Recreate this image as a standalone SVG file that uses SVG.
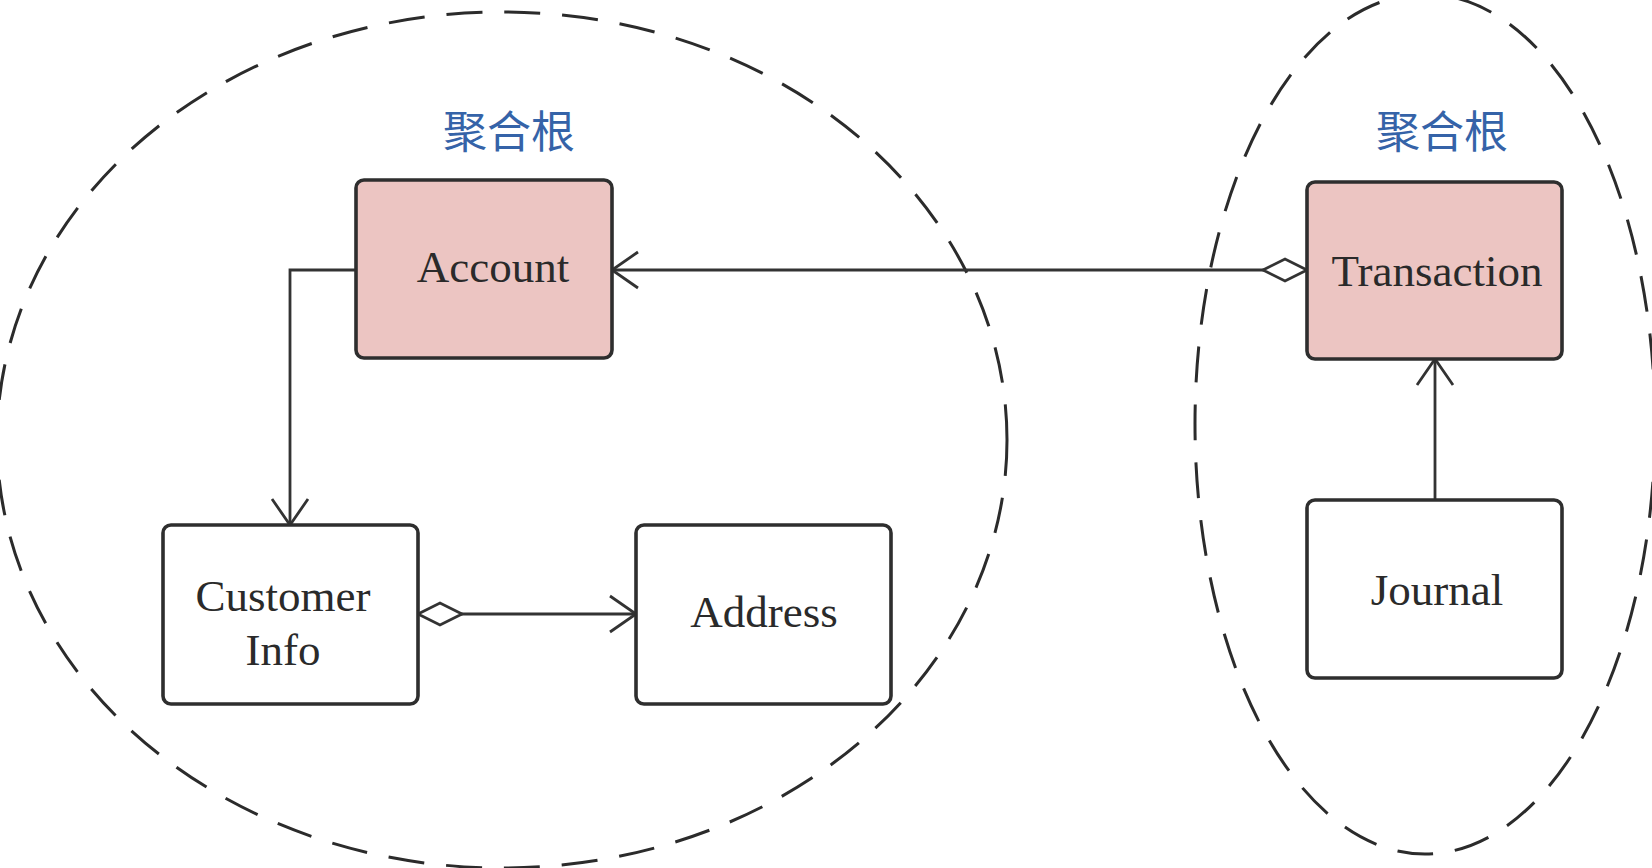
<svg xmlns="http://www.w3.org/2000/svg" width="1652" height="868" viewBox="0 0 1652 868">
  <style>
    .region { fill: none; stroke: #2b2b2b; stroke-width: 3; stroke-dasharray: 36 22; }
    .box { stroke: #2e2e2e; stroke-width: 3.6; }
    .root { fill: #ecc5c2; }
    .plain { fill: #ffffff; }
    .name { font-family: "Liberation Serif", "Times New Roman", serif; font-size: 45px; fill: #2a2a2a; text-anchor: middle; }
    .tag { font-family: "Noto Sans CJK SC", "Noto Sans CJK JP", sans-serif; font-size: 44px; fill: #3563a8; text-anchor: middle; }
    .link { fill: none; stroke: #333333; stroke-width: 2.8; }
  </style>
  <defs>
    <marker id="open" markerUnits="userSpaceOnUse" markerWidth="40" markerHeight="40" refX="0" refY="0" orient="auto" overflow="visible">
      <path d="M-26,-18 L0,0 L-26,18" fill="none" stroke="#333333" stroke-width="2.8"/>
    </marker>
    <marker id="diamond" markerUnits="userSpaceOnUse" markerWidth="50" markerHeight="30" refX="0" refY="0" orient="auto" overflow="visible">
      <path d="M0,0 L22,-11 L44,0 L22,11 Z" fill="#ffffff" stroke="#333333" stroke-width="2.8"/>
    </marker>
  </defs>
  <rect width="1652" height="868" fill="#ffffff"/>

  <g id="regions">
    <ellipse class="region" cx="502" cy="440" rx="505" ry="428"/>
    <ellipse class="region" cx="1425" cy="424" rx="230" ry="430"/>
  </g>

  <g id="connectors">
    <path class="link" d="M1307,270 H612" marker-start="url(#diamond)" marker-end="url(#open)"/>
    <path class="link" d="M356,270 H290 V525" marker-end="url(#open)"/>
    <path class="link" d="M418,614 H636" marker-start="url(#diamond)" marker-end="url(#open)"/>
    <path class="link" d="M1435,500 V359" marker-end="url(#open)"/>
  </g>

  <g id="label-left">
    <text class="tag" x="509" y="148">聚合根</text>
  </g>
  <g id="label-right">
    <text class="tag" x="1442" y="148">聚合根</text>
  </g>

  <g id="account">
    <rect class="box root" x="356" y="180" width="256" height="178" rx="8"/>
    <text class="name" x="493" y="282">Account</text>
  </g>
  <g id="customer-info">
    <rect class="box plain" x="163" y="525" width="255" height="179" rx="8"/>
    <text class="name" x="283" y="611">Customer</text>
    <text class="name" x="283" y="665">Info</text>
  </g>
  <g id="address">
    <rect class="box plain" x="636" y="525" width="255" height="179" rx="8"/>
    <text class="name" x="764" y="627">Address</text>
  </g>
  <g id="transaction">
    <rect class="box root" x="1307" y="182" width="255" height="177" rx="8"/>
    <text class="name" x="1437" y="286">Transaction</text>
  </g>
  <g id="journal">
    <rect class="box plain" x="1307" y="500" width="255" height="178" rx="8"/>
    <text class="name" x="1437" y="605">Journal</text>
  </g>
</svg>
